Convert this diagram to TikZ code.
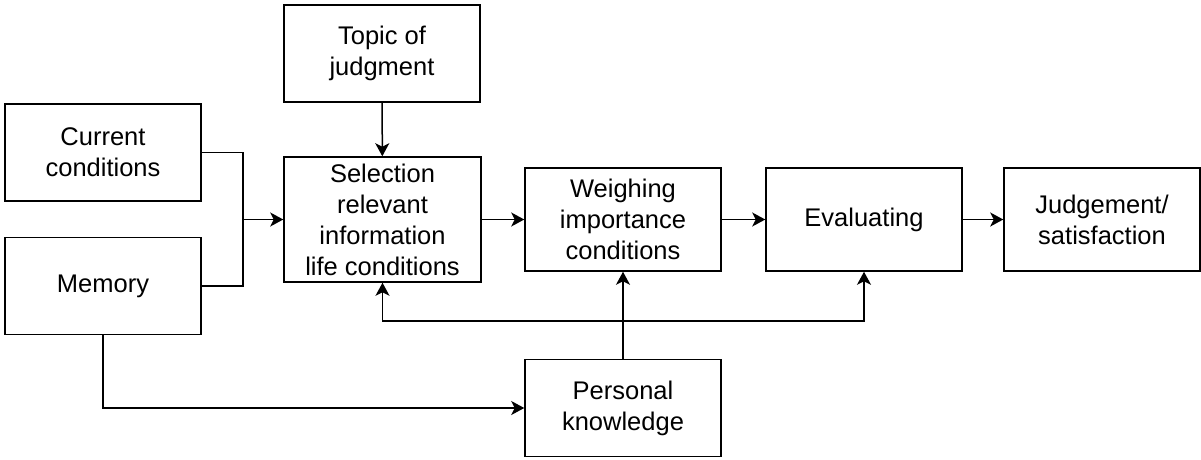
\documentclass[tikz,border=0pt]{standalone}
\usepackage{fontspec}
\setmainfont{Liberation Sans}
\usetikzlibrary{arrows.meta}
\begin{document}
\begin{tikzpicture}[x=1pt,y=-1pt,line width=1.5pt,
  box/.style={draw,minimum width=196pt,minimum height=97pt,align=center,inner sep=2pt,font=\fontsize{25.5}{31}\selectfont},
  arr/.style={-{Stealth[length=13pt,width=14pt,inset=3.5pt]}}]
  \useasboundingbox (0,0) rectangle (1201,459);
  \node[box] (topic) at (382,53.5) {Topic of\\judgment};
  \node[box] (current) at (103,152.5) {Current\\conditions};
  \node[box] (memory) at (103,286) {Memory};
  \node[box,minimum width=197pt,minimum height=125pt] (select) at (382.5,219.5) {Selection\\relevant\\information\\life conditions};
  \node[box,minimum height=103pt] (weigh) at (623,219.5) {Weighing\\importance\\conditions};
  \node[box,minimum height=103pt] (eval) at (864,219.5) {Evaluating};
  \node[box,minimum height=103pt] (judge) at (1102,219.5) {Judgement/\\satisfaction};
  \node[box] (know) at (623,408) {Personal\\knowledge};
  \coordinate (join) at (243,219.5);
  \coordinate (fb) at (623,321);
  \draw (current.east) -| (join);
  \draw (memory.east) -| (join);
  \draw[arr] (join) -- (select);
  \draw[arr] (topic) -- (select);
  \draw[arr] (select) -- (weigh);
  \draw[arr] (weigh) -- (eval);
  \draw[arr] (eval) -- (judge);
  \draw[arr] (know) -- (weigh);
  \draw[arr] (fb) -| (select.south);
  \draw[arr] (fb) -| (eval.south);
  \draw[arr] (memory.south) |- (know.west);
\end{tikzpicture}
\end{document}
